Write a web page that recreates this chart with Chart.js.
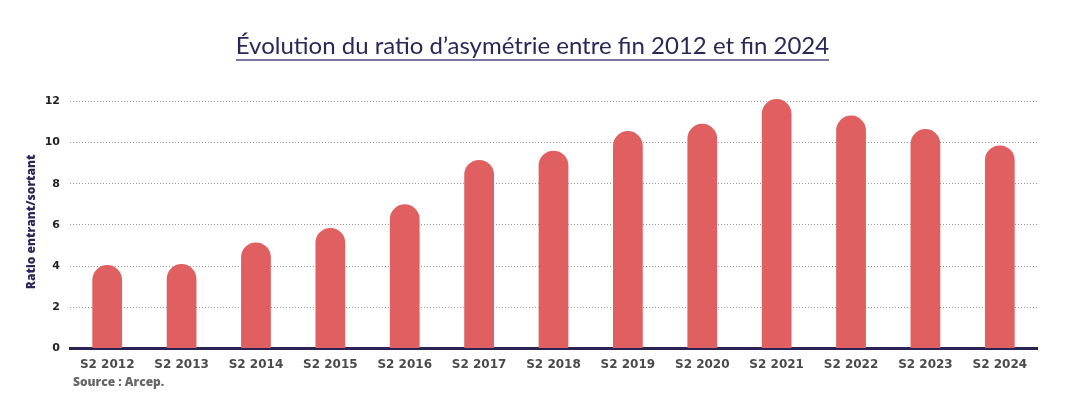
<!DOCTYPE html>
<html lang="fr">
  <head>
    <meta charset="UTF-8" />
    <title>Ratio d'asymétrie</title>
    <script src="https://cdn.jsdelivr.net/npm/chart.js"></script>
    <style>
      * {
        margin: 0;
        padding: 0;
        box-sizing: border-box;
      }
      body {
        background: #ffffff;
        font-family: "Lato", sans-serif;
      }
      .wrap {
        position: relative;
        width: 1065px;
        height: 401px;
      }
      h1 {
        position: absolute;
        top: 30px;
        left: 0;
        width: 1065px;
        text-align: center;
        font-size: 24px;
        font-weight: 400;
        color: #2b2759;
      }
      h1 span {
        border-bottom: 2px solid #7a76a3;
        padding-bottom: 0px;
      }
      .source {
        position: absolute;
        left: 73px;
        top: 373px;
        font-family: "Open Sans", sans-serif;
        font-size: 12px;
        font-weight: 800;
        color: #666;
      }
      #chartBox {
        position: absolute;
        left: 0;
        top: 0;
        width: 1065px;
        height: 401px;
      }
    </style>
  </head>
  <body>
    <div class="wrap">
      <div id="chartBox"><canvas id="ratioChart"></canvas></div>
      <h1><span>Évolution du ratio d’asymétrie entre fin 2012 et fin 2024</span></h1>
      <div class="source">Source : Arcep.</div>
    </div>
    <script>
      // semestres
      const labels = [
        "S2 2012", "S2 2013", "S2 2014", "S2 2015", "S2 2016", "S2 2017", "S2 2018",
        "S2 2019", "S2 2020", "S2 2021", "S2 2022", "S2 2023", "S2 2024"
      ];
      // ratio entrant/sortant
      const ratios = [4.05, 4.1, 5.15, 5.85, 7.0, 9.15, 9.6, 10.55, 10.9, 12.1, 11.3, 10.65, 9.85];
      const yTicks = [0, 2, 4, 6, 8, 10, 12];

      const ctx = document.getElementById("ratioChart").getContext("2d");

      new Chart(ctx, {
        type: "bar",
        data: {
          labels,
          datasets: [
            {
              label: "Ratio entrant/sortant",
              data: ratios,
              backgroundColor: "#e05f60",
              borderRadius: 15,
              borderSkipped: "start",
              barPercentage: 0.4,
              categoryPercentage: 1,
            },
          ],
        },
        options: {
          responsive: true,
          maintainAspectRatio: false,
          animation: false,
          layout: {
            padding: { top: 95, right: 28, bottom: 28, left: 24 },
          },
          plugins: {
            legend: { display: false },
            tooltip: { enabled: false },
          },
          scales: {
            x: {
              grid: { display: false },
              border: { color: "#2b2356", width: 3 },
              ticks: {
                color: "#4a4a4a",
                font: { family: "DejaVu Sans", size: 12, weight: "bold" },
                padding: 1,
              },
            },
            y: {
              min: 0,
              max: 12.3,
              afterBuildTicks: (axis) => {
                axis.ticks = yTicks.map((v) => ({ value: v }));
              },
              afterFit: (axis) => {
                axis.width = 46;
              },
              grid: {
                color: "#9a9a9a",
                lineWidth: 1,
                drawTicks: false,
              },
              border: { display: false, dash: [1, 2] },
              ticks: {
                color: "#222",
                font: { family: "DejaVu Sans", size: 11, weight: "bold" },
                padding: 10,
              },
              title: {
                display: true,
                text: "Ratio entrant/sortant",
                color: "#2b2759",
                font: { family: "Open Sans", size: 12, weight: "800" },
                padding: 0,
              },
            },
          },
        },
      });
    </script>
  </body>
</html>
